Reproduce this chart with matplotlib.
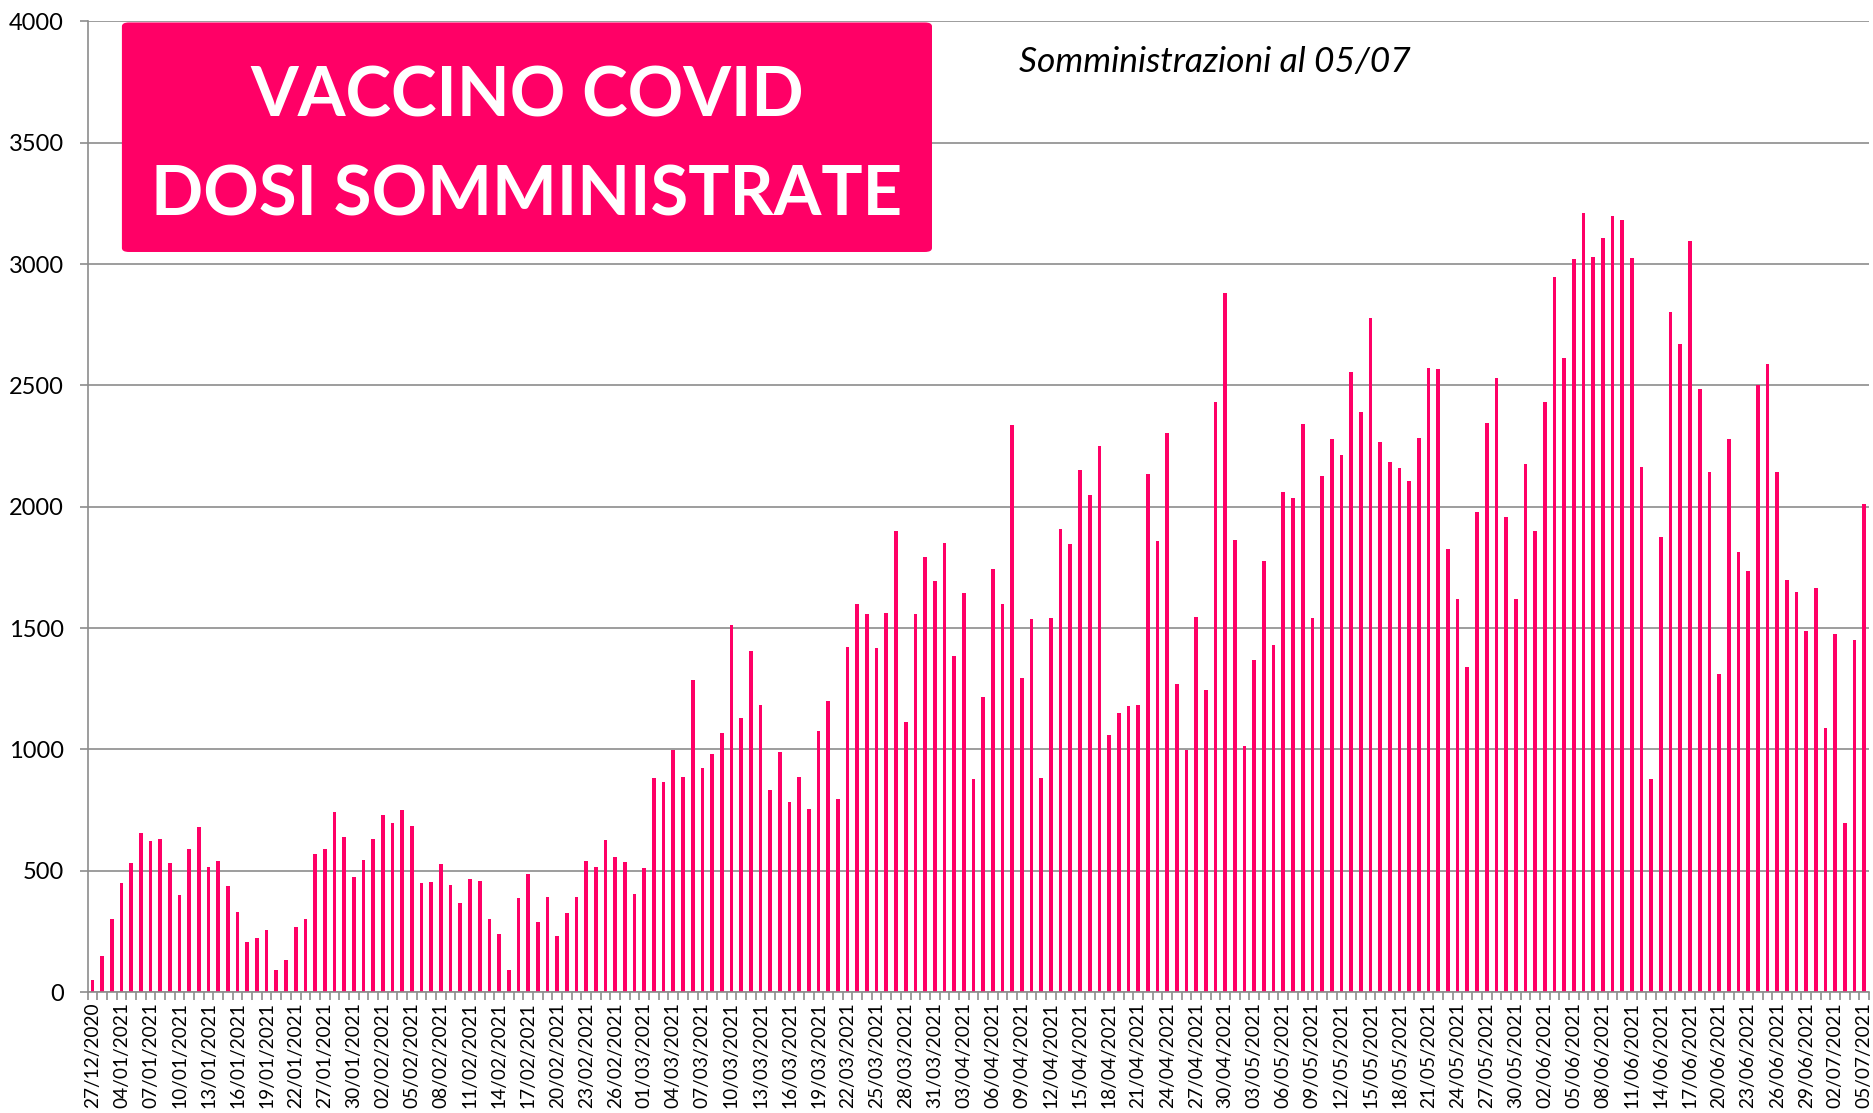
import numpy as np
import pandas as pd
import matplotlib
matplotlib.use('Agg')
import matplotlib.pyplot as plt
from matplotlib.patches import FancyBboxPatch
from matplotlib.ticker import FixedLocator

plt.rcParams['font.family'] = ['Lato', 'DejaVu Sans']

# dates: a few irregular days at the start, then daily from 27/01
first_days = ['27/12/2020', '31/12/2020', '02/01/2021']
jan_days = pd.date_range('2021-01-04', '2021-01-22').strftime('%d/%m/%Y').tolist()
gap_days = ['23/01/2021', '25/01/2021']
daily = pd.date_range('2021-01-27', '2021-07-05').strftime('%d/%m/%Y').tolist()
dates = first_days + jan_days + gap_days + daily

doses = [
    48, 149, 299, 448, 530, 654, 621, 632, 533, 399, 591, 679, 517, 540, 439, 331, 208, 223, 256, 92, 132, 266, 300, 569, 591,
    742, 639, 472, 543, 629, 731, 696, 749, 683, 449, 455, 526, 442, 366, 466, 456, 299, 238, 91, 387, 485, 287, 393, 230, 325,
    390, 542, 514, 625, 558, 537, 402, 510, 881, 865, 999, 888, 1287, 922, 979, 1066, 1513, 1131, 1404, 1182, 833, 989, 783, 885, 753,
    1075, 1200, 797, 1421, 1599, 1558, 1418, 1562, 1899, 1113, 1556, 1791, 1693, 1851, 1385, 1645, 878, 1217, 1745, 1601, 2338, 1296, 1539, 884, 1541,
    1908, 1845, 2153, 2050, 2249, 1061, 1149, 1177, 1182, 2133, 1860, 2302, 1271, 998, 1547, 1245, 2433, 2880, 1864, 1015, 1368, 1777, 1431, 2059, 2035,
    2339, 1540, 2127, 2280, 2212, 2554, 2392, 2779, 2267, 2186, 2158, 2107, 2282, 2571, 2567, 1827, 1621, 1341, 1980, 2344, 2530, 1956, 1619, 2177, 1898,
    2432, 2947, 2612, 3022, 3211, 3031, 3108, 3197, 3182, 3027, 2164, 879, 1874, 2804, 2670, 3096, 2485, 2142, 1311, 2281, 1814, 1735, 2502, 2588, 2142,
    1697, 1649, 1488, 1665, 1090, 1474, 695, 1450, 2011,
]

yticks = list(range(0, 4001, 500))
pink = '#FF0066'
grey = '#8C8C8C'

fig = plt.figure(figsize=(18.74, 11.13), dpi=100)
ax = fig.add_axes([0.0467, 0.1087, 0.9507, 0.872])

x = np.arange(len(doses))
ax.bar(x, doses, width=0.38, color=pink, zorder=2)

ax.set_xlim(-0.5, len(doses) - 0.5)
ax.set_ylim(0, 4000)
ax.set_yticks(yticks)
ax.yaxis.grid(True, color=grey, lw=1.2, zorder=0)
ax.set_axisbelow(True)

ax.set_xticks(x[::3])
ax.set_xticklabels(dates[::3], rotation=90, fontsize=13.8)
ax.xaxis.set_minor_locator(FixedLocator(np.arange(-0.5, len(doses), 1)))
ax.tick_params(axis='x', which='major', length=0, pad=7.5)
ax.tick_params(axis='x', which='minor', length=6, color=grey, width=1.2)
ax.tick_params(axis='y', length=6, color=grey, width=1.2, labelsize=17, pad=11)

for s in ['top', 'right']:
    ax.spines[s].set_visible(False)
for s in ['left', 'bottom']:
    ax.spines[s].set_color(grey)
    ax.spines[s].set_linewidth(1.2)

box = FancyBboxPatch((0.0193, 0.7625), 0.4547, 0.2365, boxstyle='round,pad=0,rounding_size=0.004',
                     transform=ax.transAxes, facecolor=pink, edgecolor='none', zorder=5)
ax.add_patch(box)
ax.text(0.2467, 0.9016, 'VACCINO COVID', transform=ax.transAxes, ha='center', va='baseline',
        fontsize=49.5, fontweight='bold', color='white', zorder=6)
ax.text(0.2467, 0.8006, 'DOSI SOMMINISTRATE', transform=ax.transAxes, ha='center', va='baseline',
        fontsize=49.5, fontweight='bold', color='white', zorder=6)
ax.text(0.633, 0.948, 'Somministrazioni al 05/07', transform=ax.transAxes, ha='center', va='baseline',
        fontsize=25.5, fontstyle='italic', color='black', zorder=6)

fig.savefig('out.png', dpi=100)
